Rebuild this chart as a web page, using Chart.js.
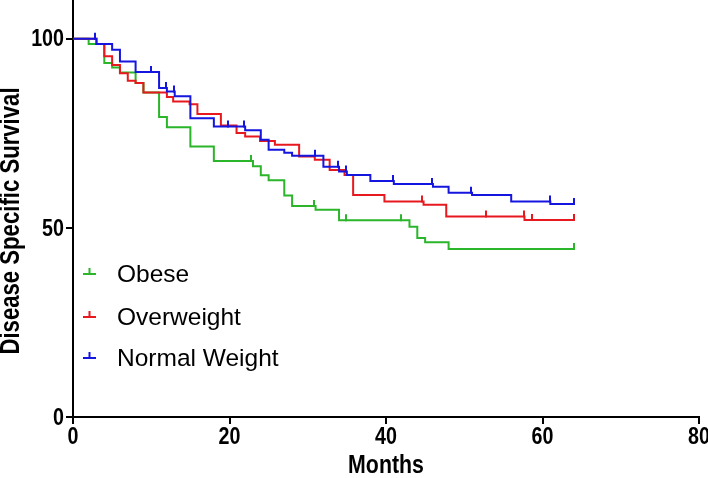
<!DOCTYPE html>
<html>
<head>
<meta charset="utf-8">
<script src="https://cdn.jsdelivr.net/npm/chart.js@4/dist/chart.umd.min.js"></script>
<style>
  html, body { margin: 0; padding: 0; background: #fff; }
  #wrap { width: 708px; height: 478px; position: relative; }
</style>
</head>
<body>
<div id="wrap"><canvas id="km"></canvas></div>
<script>
// Kaplan-Meier steps: time (months) -> survival after the drop
const obeseTimes = [0, 2, 4, 5, 6, 8, 9, 11, 12, 15, 18, 23, 24, 25, 27, 28, 31, 34, 43, 44, 45, 48, 64];
const obeseSurv  = [100, 98.6, 93.6, 92.4, 91.1, 88.3, 85.8, 79.3, 76.6, 71.5, 67.7, 66.3, 63.9, 62.6, 58.6, 55.8, 54.8, 52.0, 50.3, 47.3, 46.2, 44.4, 44.4];
const obeseCensor = [22.8, 30.8, 34.9, 41.9, 64];

const overTimes = [0, 3, 4, 5, 6, 7, 8, 9, 12, 12.8, 14.9, 15.9, 18.9, 20.9, 22, 23.9, 25.8, 28.9, 30.9, 32.8, 34.7, 35.8, 39.8, 44.8, 47.7, 57.7, 64];
const overSurv  = [100, 98.6, 95.4, 93.1, 90.9, 88.9, 88.3, 85.8, 84.6, 83.4, 82.7, 80.1, 77.1, 75.1, 74.2, 73.0, 72.0, 68.9, 68.0, 65.3, 64.0, 58.7, 57.0, 56.1, 53.0, 52.1, 52.1];
const overCensor = [44.6, 52.8, 57.6, 58.7, 64];

const normalTimes = [0, 3, 5, 6, 8, 11, 12, 13, 15, 18, 22, 24, 25, 27, 28, 32, 34, 35, 38, 41, 46, 48, 51, 56, 61, 64];
const normalSurv  = [100, 98.6, 97.1, 94.0, 91.2, 87.0, 86.1, 84.8, 79.0, 76.8, 75.8, 73.3, 70.7, 69.9, 69.1, 66.2, 64.9, 64.0, 62.4, 61.6, 60.9, 59.3, 58.7, 57.0, 56.3, 56.3];
const normalCensor = [2.8, 10, 11.9, 12.9, 19.8, 21.9, 30.9, 33.9, 34.9, 40.9, 45.9, 50.9, 60.9, 64];

const groupLabels = ['Obese', 'Overweight', 'Normal Weight'];
const groupColors = ['#2bb52b', '#e8191e', '#1515e0'];

const xTicks = [0, 20, 40, 60, 80];
const yTicks = [0, 50, 100];
const xTitle = 'Months';
const yTitle = 'Disease Specific Survival';

// no Arial Narrow here, so squeeze Liberation Sans Bold horizontally
const NARROW = 0.82;
const boldFamily = "'Liberation Sans', Arial, sans-serif";

function toPoints(ts, ss) {
  return ts.map((t, i) => ({ x: t, y: ss[i] }));
}

// survival level at time t (last step at or before t)
function levelAt(ts, ss, t) {
  let v = ss[0];
  for (let i = 0; i < ts.length; i++) {
    if (ts[i] <= t) v = ss[i];
  }
  return v;
}

const groups = [
  { times: obeseTimes, surv: obeseSurv, censor: obeseCensor },
  { times: overTimes, surv: overSurv, censor: overCensor },
  { times: normalTimes, surv: normalSurv, censor: normalCensor }
];

function narrowText(ctx, text, x, y, size, align, rot) {
  ctx.save();
  ctx.translate(x, y);
  if (rot) ctx.rotate(rot);
  ctx.scale(NARROW, 1);
  ctx.font = 'bold ' + size + 'px ' + boldFamily;
  ctx.fillStyle = '#000';
  ctx.textAlign = align;
  ctx.textBaseline = 'middle';
  ctx.fillText(text, 0, 0);
  ctx.restore();
}

// censor ticks go up from the curve
const censorPlugin = {
  id: 'censorTicks',
  afterDatasetsDraw(chart) {
    const ctx = chart.ctx;
    const xs = chart.scales.x, ys = chart.scales.y;
    ctx.save();
    ctx.lineWidth = 2;
    groups.forEach((g, gi) => {
      ctx.strokeStyle = groupColors[gi];
      g.censor.forEach(t => {
        const px = Math.round(xs.getPixelForValue(t));
        const py = ys.getPixelForValue(levelAt(g.times, g.surv, t));
        ctx.beginPath();
        ctx.moveTo(px, py + 1);
        ctx.lineTo(px, py - 6);
        ctx.stroke();
      });
    });
    ctx.restore();
  }
};

// axis labels + titles in a condensed bold face
const axisTextPlugin = {
  id: 'axisText',
  afterDraw(chart) {
    const ctx = chart.ctx;
    const xs = chart.scales.x, ys = chart.scales.y;
    const a = chart.chartArea;
    xTicks.forEach(v => narrowText(ctx, String(v), xs.getPixelForValue(v), a.bottom + 20, 24, 'center'));
    yTicks.forEach(v => narrowText(ctx, String(v), a.left - 9, ys.getPixelForValue(v) + 1, 24, 'right'));
    narrowText(ctx, xTitle, (a.left + a.right) / 2, a.bottom + 49, 26, 'center');
    narrowText(ctx, yTitle, 12, 221, 27, 'center', -Math.PI / 2);
  }
};

// legend drawn inside the plot, lower left
const legendPlugin = {
  id: 'kmLegend',
  afterDraw(chart) {
    const ctx = chart.ctx;
    const a = chart.chartArea;
    const rows = [274, 317, 358];
    ctx.save();
    ctx.font = "24.5px 'Liberation Sans', Arial, sans-serif";
    ctx.textBaseline = 'middle';
    groupLabels.forEach((lab, i) => {
      const y = rows[i];
      const x0 = a.left + 10;
      ctx.strokeStyle = groupColors[i];
      ctx.lineWidth = 2;
      ctx.beginPath();
      ctx.moveTo(x0, y);
      ctx.lineTo(x0 + 13, y);
      ctx.moveTo(x0 + 6.5, y);
      ctx.lineTo(x0 + 6.5, y - 6);
      ctx.stroke();
      ctx.fillStyle = '#000';
      ctx.fillText(lab, a.left + 44, y + 1);
    });
    ctx.restore();
  }
};

const datasets = groups.map((g, i) => ({
  label: groupLabels[i],
  data: toPoints(g.times, g.surv),
  borderColor: groupColors[i],
  backgroundColor: groupColors[i],
  borderWidth: 2,
  pointRadius: 0,
  stepped: 'before',
  fill: false,
  order: 2 - i
}));

new Chart(document.getElementById('km'), {
  type: 'line',
  data: { datasets: datasets },
  options: {
    responsive: true,
    maintainAspectRatio: false,
    animation: false,
    devicePixelRatio: 1,
    layout: { padding: { top: 1, right: 9, left: 0, bottom: 0 } },
    plugins: { legend: { display: false }, tooltip: { enabled: false } },
    scales: {
      x: {
        type: 'linear',
        min: 0, max: 80,
        afterBuildTicks: s => { s.ticks = xTicks.map(v => ({ value: v })); },
        afterFit: s => { s.height = 61; s.paddingLeft = 0; s.paddingRight = 0; },
        border: { display: true, color: '#000', width: 2 },
        grid: { display: true, drawOnChartArea: false, drawTicks: true, tickLength: 7, color: '#000', lineWidth: 2 },
        ticks: { display: false }
      },
      y: {
        type: 'linear',
        min: 0, max: 110,
        afterBuildTicks: s => { s.ticks = yTicks.map(v => ({ value: v })); },
        afterFit: s => { s.width = 73; s.paddingTop = 0; s.paddingBottom = 0; },
        border: { display: true, color: '#000', width: 2 },
        grid: { display: true, drawOnChartArea: false, drawTicks: true, tickLength: 7, color: '#000', lineWidth: 2 },
        ticks: { display: false }
      }
    }
  },
  plugins: [censorPlugin, axisTextPlugin, legendPlugin]
});
</script>
</body>
</html>
